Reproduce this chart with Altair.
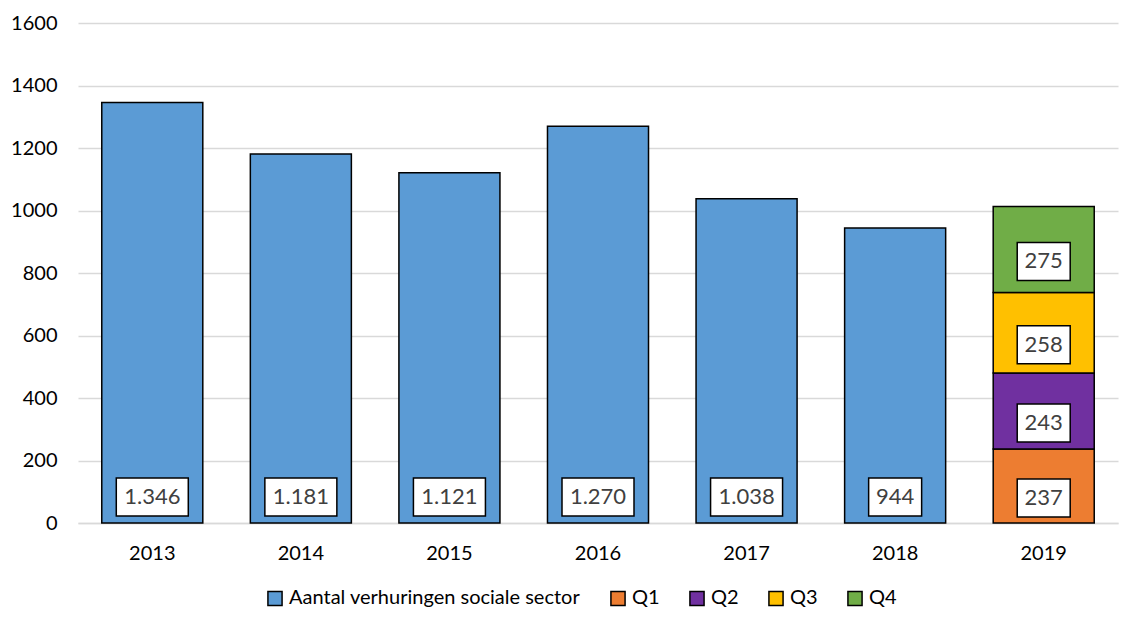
import altair as alt
import pandas as pd

years = ["2013", "2014", "2015", "2016", "2017", "2018", "2019", "2019", "2019", "2019"]
series = ["Aantal verhuringen sociale sector"] * 6 + ["Q1", "Q2", "Q3", "Q4"]
values = [1346, 1181, 1121, 1270, 1038, 944, 237, 243, 258, 275]
labels = ["1.346", "1.181", "1.121", "1.270", "1.038", "944", "237", "243", "258", "275"]
order = [0, 0, 0, 0, 0, 0, 1, 2, 3, 4]

series_domain = ["Aantal verhuringen sociale sector", "Q1", "Q2", "Q3", "Q4"]
series_colors = ["#5B9BD5", "#ED7D31", "#7030A0", "#FFC000", "#70AD47"]

df = pd.DataFrame({"year": years, "series": series, "value": values,
                   "label": labels, "order": order})

FONT = "Lato"
MAIN = "Aantal verhuringen sociale sector"

base = alt.Chart(df).transform_stack(
    stack="value", as_=["y0", "y1"], groupby=["year"],
    sort=[alt.SortField("order", order="ascending")]
).transform_calculate(
    mid="(datum.y0 + datum.y1) / 2",
    box="length(datum.label) > 3 ? 'M-1,-0.528L1,-0.528L1,0.528L-1,0.528Z' : 'M-0.736,-0.528L0.736,-0.528L0.736,0.528L-0.736,0.528Z'"
)

xenc = alt.X("year:N", title=None,
             scale=alt.Scale(paddingInner=0.32, paddingOuter=0.16),
             axis=alt.Axis(labelAngle=0, ticks=False, labelPadding=20, grid=False,
                           labelFontSize=20, labelFont=FONT, labelColor="#000000",
                           domainColor="#d9d9d9", domainWidth=1.3))

bars = base.mark_bar(stroke="#000000", strokeWidth=1.5).encode(
    x=xenc,
    y=alt.Y("y0:Q", title=None,
            scale=alt.Scale(domain=[0, 1600]),
            axis=alt.Axis(values=[0, 200, 400, 600, 800, 1000, 1200, 1400, 1600],
                          format="d",
                          domain=False, ticks=False, labelPadding=21,
                          labelFontSize=20, labelFont=FONT, labelColor="#000000",
                          gridColor="#d9d9d9", gridWidth=1.3)),
    y2="y1:Q",
    color=alt.Color("series:N",
                    scale=alt.Scale(domain=series_domain, range=series_colors),
                    legend=alt.Legend(title=None, orient="none", direction="horizontal",
                                      legendX=187, legendY=565,
                                      symbolType="square", symbolSize=200,
                                      symbolStrokeColor="#000000", symbolStrokeWidth=1.5,
                                      labelFontSize=20, labelFont=FONT, labelColor="#000000",
                                      labelLimit=500, columnPadding=26, labelOffset=4)),
    order=alt.Order("order:Q"),
)

main_boxes = base.transform_filter(alt.datum.series == MAIN).mark_point(
    filled=True, fill="#ffffff", stroke="#000000", strokeWidth=1.5,
    size=5184, opacity=1, yOffset=-26
).encode(x="year:N", y=alt.Y("y0:Q"), shape=alt.Shape("box:N", scale=None))

main_text = base.transform_filter(alt.datum.series == MAIN).mark_text(
    font=FONT, fontSize=22, color="#404040", yOffset=-26, baseline="middle"
).encode(x="year:N", y=alt.Y("y0:Q"), text="label:N")

q_boxes = base.transform_filter(alt.datum.series != MAIN).mark_point(
    filled=True, fill="#ffffff", stroke="#000000", strokeWidth=1.5,
    size=5184, opacity=1, yOffset=12
).encode(x="year:N", y=alt.Y("mid:Q"), shape=alt.Shape("box:N", scale=None))

q_text = base.transform_filter(alt.datum.series != MAIN).mark_text(
    font=FONT, fontSize=22, color="#404040", yOffset=12, baseline="middle"
).encode(x="year:N", y=alt.Y("mid:Q"), text="label:N")

chart = alt.layer(bars, main_boxes, main_text, q_boxes, q_text).properties(
    width=1040, height=500,
    view=alt.ViewBackground(stroke="transparent", strokeWidth=0),
    autosize=alt.AutoSizeParams(type="none"),
    padding={"left": 70, "top": 15, "right": 2, "bottom": 87},
).configure_view(strokeWidth=0, stroke="transparent").configure(background="#ffffff")

chart.save("out.html", embed_options={"renderer": "svg", "actions": False})
